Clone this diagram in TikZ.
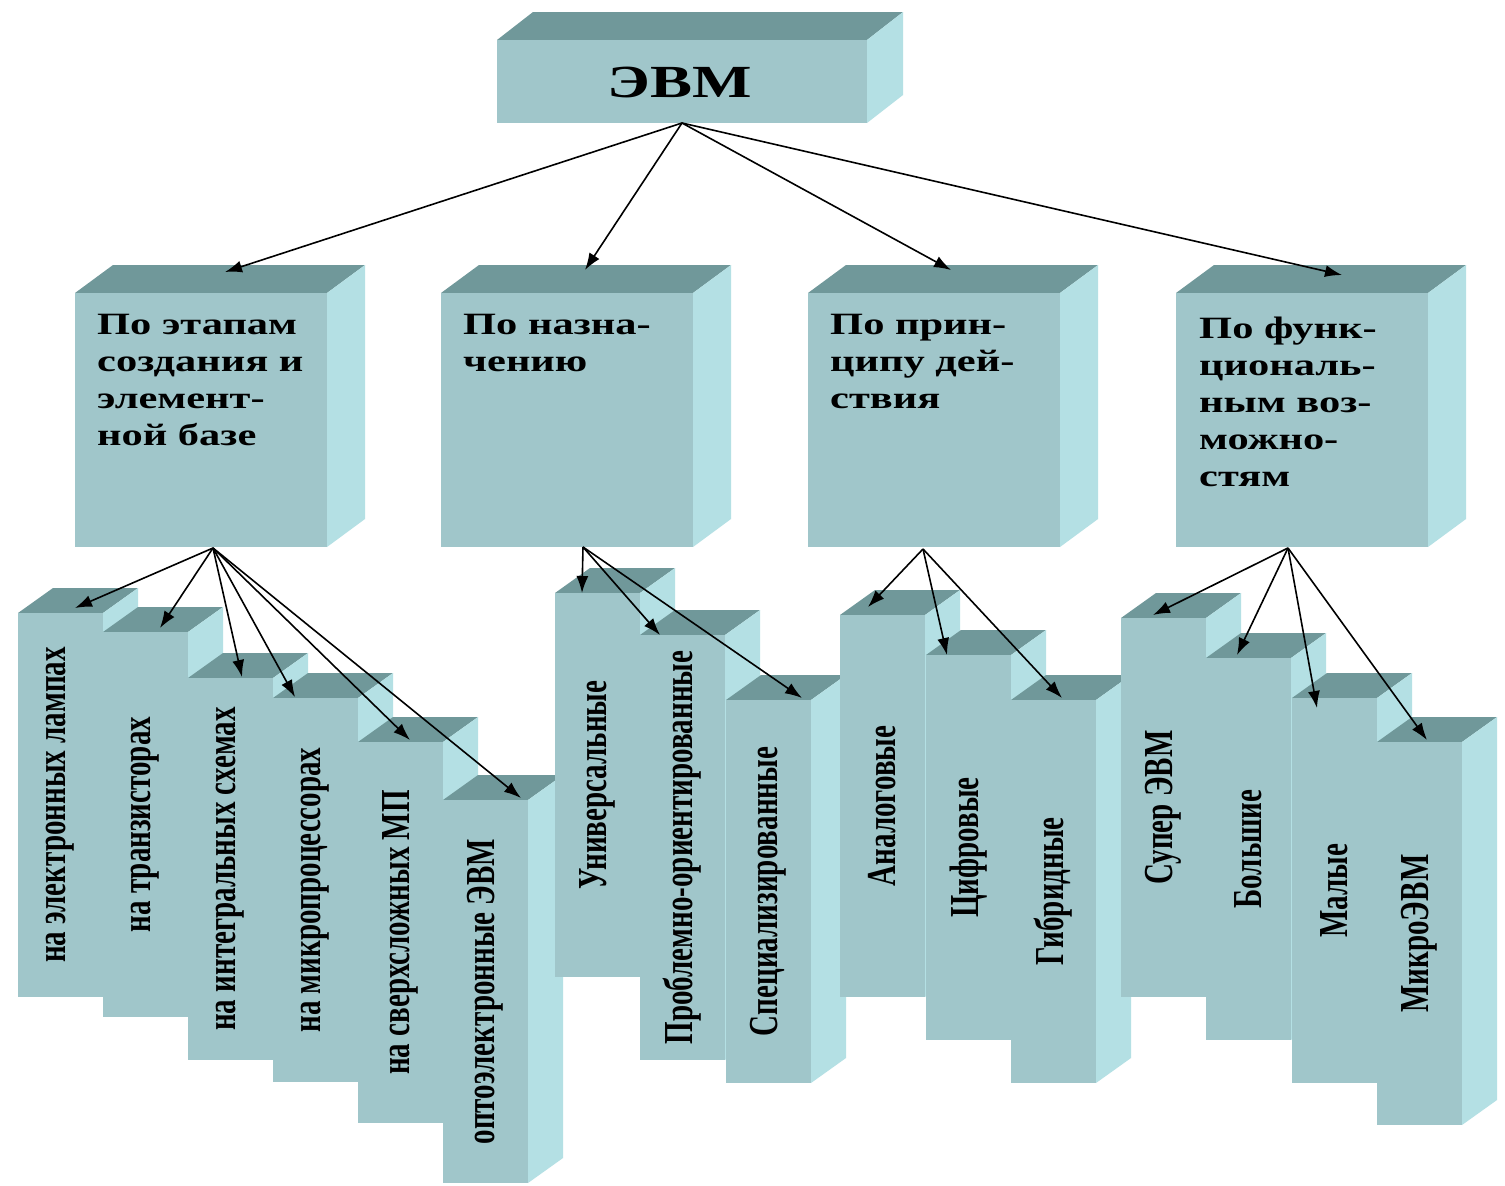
\documentclass[tikz,border=0pt]{standalone}
\usepackage{graphicx}
\usepackage{fontspec}
\setmainfont{Liberation Serif}
\usetikzlibrary{arrows.meta}
\definecolor{frontc}{RGB}{160,198,202}
\definecolor{topc}{RGB}{112,152,154}
\definecolor{sidec}{RGB}{180,224,228}
\tikzset{
  face/.style={rectangle, fill=frontc, draw=none, anchor=north west, inner sep=0pt, outer sep=0pt},
  vtext/.style={rotate=90, inner sep=0pt, font=\fontsize{29}{34}\selectfont\bfseries},
  htext/.style={anchor=base west, inner sep=0pt, align=left, font=\fontsize{31}{37}\selectfont\bfseries},
  arr/.style={-{Latex[length=17pt,width=12pt]}, line width=1.6pt, black},
}
% #1 name, #2 x, #3 ytop, #4 w, #5 h, #6 dx, #7 dy
\newcommand\mkcube[7]{%
  \fill[topc] (#2,#3) -- ++(#6,-#7) -- ++(#4,0) -- ++(-#6,#7) -- cycle;
  \fill[sidec] ({#2+#4},#3) -- ++(#6,-#7) -- ++(0,#5) -- ++(-#6,#7) -- cycle;
  \node[face, minimum width=#4pt, minimum height=#5pt] (#1) at (#2,#3) {};
}
% #1 name, #2 x, #3 ytop, #4 h, #5 text
\newcommand\mkpillar[5]{%
  \mkcube{#1}{#2}{#3}{85}{#4}{35}{25}
  \node[vtext] (#1-t) at (#1.center) {\scalebox{1}[1.42]{#5}};
}
\newcommand\hlines[1]{\scalebox{1.37}[1]{\begin{tabular}[t]{@{}l@{}}#1\end{tabular}}}
\begin{document}
\begin{tikzpicture}[x=1pt, y=-1pt]
\fill[white] (0,0) rectangle (1505,1186);
\useasboundingbox (0,0) rectangle (1505,1186);

% top box
\mkcube{evm}{497}{40}{370}{83}{36}{28}
\node[inner sep=0pt] (evm-t) at (680,82) {\scalebox{1.37}[1]{\fontsize{46}{52}\selectfont\bfseries ЭВМ}};

% level 2
\mkcube{b1}{75}{293}{252}{254}{38}{28}
\mkcube{b2}{441}{293}{252}{254}{38}{28}
\mkcube{b3}{808}{293}{252}{254}{38}{28}
\mkcube{b4}{1176}{293}{252}{254}{38}{28}
\node[htext] (b1-t) at (97,334) {\hlines{По этапам\\создания и\\элемент-\\ной базе}};
\node[htext] (b2-t) at (463,334) {\hlines{По назна-\\чению}};
\node[htext] (b3-t) at (830,334) {\hlines{По прин-\\ципу дей-\\ствия}};
\node[htext] (b4-t) at (1199,338) {\hlines{По функ-\\циональ-\\ным воз-\\можно-\\стям}};

% group 1
\mkpillar{p1}{18}{613}{384}{на электронных лампах}
\mkpillar{p2}{103}{632}{385}{на транзисторах}
\mkpillar{p3}{188}{678}{382}{на интегральных схемах}
\mkpillar{p4}{273}{698}{384}{на микропроцессорах}
\mkpillar{p5}{358}{742}{381}{на сверхсложных МП}
\mkpillar{p6}{443}{800}{383}{оптоэлектронные ЭВМ}
% group 2
\mkpillar{q1}{555}{593}{384}{Универсальные}
\mkpillar{q2}{640}{635}{425}{Проблемно-ориентированные}
\mkpillar{q3}{726}{700}{383}{Специализированные}
% group 3
\mkpillar{r1}{840}{615}{382}{Аналоговые}
\mkpillar{r2}{926}{655}{385}{Цифровые}
\mkpillar{r3}{1011}{700}{383}{Гибридные}
% group 4
\mkpillar{s1}{1121}{618}{379}{Супер ЭВМ}
\mkpillar{s2}{1206}{658}{382}{Большие}
\mkpillar{s3}{1292}{698}{385}{Малые}
\mkpillar{s4}{1377}{742}{383}{МикроЭВМ}

% connector end points
\coordinate (b1-in) at (225,272);
\coordinate (b2-in) at (585,270);
\coordinate (b3-in) at (951,270);
\coordinate (b4-in) at (1342,275);
\coordinate (b1-out) at (213,548);
\coordinate (b2-out) at (583,547);
\coordinate (b3-out) at (923,549);
\coordinate (b4-out) at (1288,548);
\coordinate (p1-in) at (75,608);
\coordinate (p2-in) at (160,628);
\coordinate (p3-in) at (242,677);
\coordinate (p4-in) at (295,697);
\coordinate (p5-in) at (410,740);
\coordinate (p6-in) at (521,798);
\coordinate (q1-in) at (582,593);
\coordinate (q2-in) at (660,635);
\coordinate (q3-in) at (802,698);
\coordinate (r1-in) at (868,607);
\coordinate (r2-in) at (947,655);
\coordinate (r3-in) at (1062,698);
\coordinate (s1-in) at (1153,615);
\coordinate (s2-in) at (1237,655);
\coordinate (s3-in) at (1317,708);
\coordinate (s4-in) at (1427,740);

\foreach \t in {b1,b2,b3,b4} \draw[arr] (evm.south) -- (\t-in);
\foreach \t in {p1,p2,p3,p4,p5,p6} \draw[arr] (b1-out) -- (\t-in);
\foreach \t in {q1,q2,q3} \draw[arr] (b2-out) -- (\t-in);
\foreach \t in {r1,r2,r3} \draw[arr] (b3-out) -- (\t-in);
\foreach \t in {s1,s2,s3,s4} \draw[arr] (b4-out) -- (\t-in);
\end{tikzpicture}
\end{document}
